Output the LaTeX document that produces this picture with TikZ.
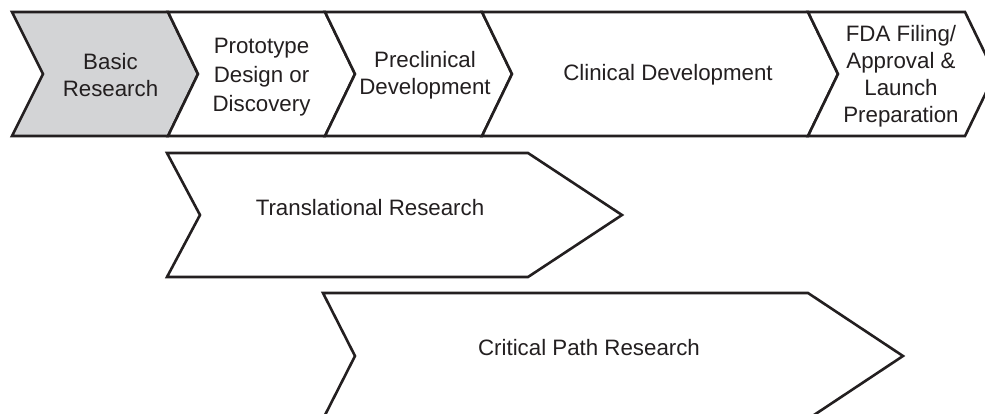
\documentclass[tikz,border=0pt]{standalone}
\usepackage{fontspec}
\setmainfont{Liberation Sans}
\definecolor{ink}{HTML}{231F20}
\definecolor{shade}{HTML}{D3D4D6}
\begin{document}
\begin{tikzpicture}[x=1pt,y=-1pt,
  chev/.style={draw=ink, line width=2.6pt, line join=miter, miter limit=10},
  lab/.style={text=ink, align=center, inner sep=0pt, font=\fontsize{22.3}{27}\selectfont},
  labwide/.style={lab, font=\fontsize{22.3}{29}\selectfont}]
\useasboundingbox (0,0) rectangle (985,413);
\clip (0,0) rectangle (985,413);
% top row
\draw[chev, fill=shade] (12,12) -- (168,12) -- (198,74) -- (168,136) -- (12,136) -- (43,74) -- cycle;
\draw[chev, fill=white] (168,12) -- (325,12) -- (355,74) -- (325,136) -- (168,136) -- (198,74) -- cycle;
\draw[chev, fill=white] (325,12) -- (482,12) -- (512,74) -- (482,136) -- (325,136) -- (355,74) -- cycle;
\draw[chev, fill=white] (482,12) -- (808,12) -- (838,74) -- (808,136) -- (482,136) -- (512,74) -- cycle;
\draw[chev, fill=white] (808,12) -- (965,12) -- (995,74) -- (965,136) -- (808,136) -- (838,74) -- cycle;
% lower arrows
\draw[chev, fill=white] (167,153) -- (528,153) -- (622,215) -- (528,277) -- (167,277) -- (200,215) -- cycle;
\draw[chev, fill=white] (323,293) -- (808,293) -- (903,356) -- (808,419) -- (323,419) -- (355,356) -- cycle;
% labels
\node[lab] (basic) at (110.5,75) {Basic\\Research};
\node[labwide] (proto) at (261.5,77) {Prototype\\Design or\\Discovery};
\node[lab] (precl) at (425,75) {Preclinical\\Development};
\node[lab] (clin) at (668,75) {Clinical Development};
\node[lab] (fda) at (901,76) {FDA Filing/\\Approval \&\\Launch\\Preparation};
\node[lab] (trans) at (370,208) {Translational Research};
\node[lab] (crit) at (589,348) {Critical Path Research};
\end{tikzpicture}
\end{document}
